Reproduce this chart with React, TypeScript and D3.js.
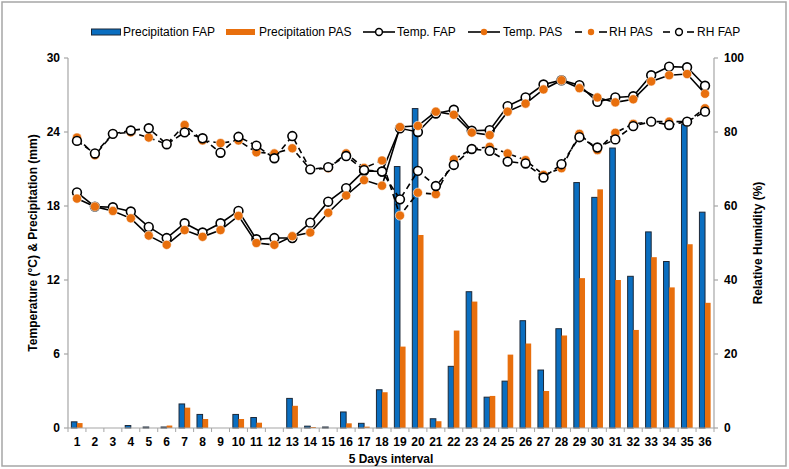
import * as d3 from 'd3'

// 5-day intervals
const categories = ['1','2','3','4','5','6','7','8','9','10','11','12','13','14','15','16','17','18',
  '19','20','21','22','23','24','25','26','27','28','29','30','31','32','33','34','35','36']

// precipitation (mm)
const precipFAP = [0.5, 0, 0, 0.2, 0.08, 0.08, 1.95, 1.1, 0, 1.1, 0.85, 0, 2.4, 0.15, 0.08, 1.3, 0.38, 3.1,
  21.2, 25.9, 0.75, 5.0, 11.05, 2.5, 3.8, 8.7, 4.7, 8.05, 19.9, 18.7, 22.7, 12.3, 15.9, 13.5, 24.6, 17.5]
const precipPAS = [0.4, 0, 0, 0, 0, 0.2, 1.65, 0.73, 0, 0.73, 0.43, 0, 1.8, 0.08, 0, 0.38, 0.11, 2.9,
  6.6, 15.65, 0.55, 7.9, 10.25, 2.6, 5.95, 6.85, 3.0, 7.5, 12.15, 19.35, 12.0, 7.95, 13.85, 11.4, 14.9, 10.15]

// temperature (°C)
const tempFAP = [19.1, 17.95, 17.9, 17.55, 16.3, 15.4, 16.6, 15.85, 16.6, 17.6, 15.3, 15.4, 15.4, 16.65, 18.35, 19.45, 20.85, 20.8,
  24.3, 24.0, 25.5, 25.8, 24.1, 24.15, 26.1, 26.8, 27.85, 28.2, 27.8, 26.45, 26.8, 26.9, 28.6, 29.3, 29.25, 27.75]
const tempPAS = [18.6, 17.95, 17.6, 17.0, 15.6, 14.85, 16.05, 15.5, 16.05, 17.2, 15.0, 14.85, 15.55, 15.85, 17.45, 18.85, 20.1, 19.65,
  24.4, 24.5, 25.65, 25.4, 23.95, 23.75, 25.65, 26.3, 27.45, 28.2, 27.55, 26.8, 26.4, 26.65, 28.1, 28.6, 28.7, 27.1]

// relative humidity (%)
const rhFAP = [77.6, 74.2, 79.5, 80.4, 81.0, 76.7, 79.9, 78.3, 74.4, 78.7, 76.3, 72.9, 78.9, 69.9, 70.5, 73.5, 69.7, 69.3,
  61.8, 69.5, 65.4, 71.1, 75.4, 74.9, 72.0, 71.5, 67.7, 71.3, 78.6, 75.8, 78.0, 81.6, 82.8, 81.9, 82.8, 85.5]
const rhPAS = [78.5, 73.7, 79.5, 79.9, 78.5, 76.7, 81.9, 77.7, 77.0, 77.7, 74.5, 74.2, 75.6, 69.9, 70.2, 74.2, 70.3, 72.3,
  57.4, 63.6, 63.2, 72.6, 75.4, 76.0, 74.2, 72.4, 68.4, 70.2, 79.5, 75.1, 79.8, 82.2, 82.8, 82.8, 82.8, 86.4]

const leftTicks = [0, 6, 12, 18, 24, 30]
const rightTicks = [0, 20, 40, 60, 80, 100]

const W = 789
const H = 469
const margin = { top: 58, right: 75, bottom: 41, left: 68 }

const BLUE = '#0A6EC0'
const ORANGE = '#E86F0D'
const AXIS = '#A6A6A6'
const FONT = '"Liberation Sans", Arial, sans-serif'

export default function App() {
  const x = d3.scaleBand<string>()
    .domain(categories)
    .range([margin.left, W - margin.right])
  const bw = x.bandwidth()
  const xSub = d3.scaleBand<string>()
    .domain(['FAP', 'PAS'])
    .range([bw / 2 - 5.6, bw / 2 + 5.6])
  const cx = (i: number) => (x(categories[i]) as number) + bw / 2

  const yL = d3.scaleLinear().domain([0, 30]).range([H - margin.bottom, margin.top])
  const yR = d3.scaleLinear().domain([0, 100]).range([H - margin.bottom, margin.top])

  const tempLine = d3.line<number>().x((_, i) => cx(i)).y(d => yL(d))
  const rhLine = d3.line<number>().x((_, i) => cx(i)).y(d => yR(d))

  const x0 = margin.left
  const x1 = W - margin.right
  const y0 = H - margin.bottom

  const whiteDots = (vals: number[], scale: (v: number) => number) =>
    vals.map((v, i) => (
      <circle key={i} cx={cx(i)} cy={scale(v)} r={4.4} fill="#fff" stroke="#000" strokeWidth={1.6} />
    ))
  const orangeDots = (vals: number[], scale: (v: number) => number) =>
    vals.map((v, i) => (
      <circle key={i} cx={cx(i)} cy={scale(v)} r={4.6} fill={ORANGE} stroke="#fff" strokeWidth={0.6} />
    ))

  const legendY = 32
  const textStyle = { fontFamily: FONT, fontSize: 12, fill: '#000' }

  return (
    <div style={{ position: 'absolute', left: 0, top: 0 }}>
      <svg width={W} height={H} style={{ display: 'block', background: '#fff' }}>
        <rect x={2} y={2} width={784} height={464} fill="#fff" stroke="#A6A6A6" strokeWidth={1.5} />

        {/* bars */}
        <g>
          {precipFAP.map((v, i) => (
            <rect key={'b' + i}
              x={(x(categories[i]) as number) + (xSub('FAP') as number)}
              y={yL(v)}
              width={xSub.bandwidth()}
              height={y0 - yL(v)}
              fill={BLUE} stroke="#1B2838" strokeWidth={v > 0 ? 1 : 0} />
          ))}
          {precipPAS.map((v, i) => (
            <rect key={'o' + i}
              x={(x(categories[i]) as number) + (xSub('PAS') as number)}
              y={yL(v)}
              width={xSub.bandwidth()}
              height={y0 - yL(v)}
              fill={ORANGE} />
          ))}
        </g>

        {/* axes */}
        <g>
          <line x1={x0} x2={x0} y1={margin.top} y2={y0} stroke={AXIS} strokeWidth={1.2} />
          {leftTicks.map(t => (
            <g key={t}>
              <line x1={x0 - 4} x2={x0} y1={yL(t)} y2={yL(t)} stroke={AXIS} strokeWidth={1.2} />
              <text x={x0 - 8} y={yL(t)} dy="0.35em" textAnchor="end" style={{ ...textStyle, fontWeight: 'bold' }}>{t}</text>
            </g>
          ))}
          <line x1={x1} x2={x1} y1={margin.top} y2={y0} stroke={AXIS} strokeWidth={1.2} />
          {rightTicks.map(t => (
            <g key={t}>
              <line x1={x1} x2={x1 + 4} y1={yR(t)} y2={yR(t)} stroke={AXIS} strokeWidth={1.2} />
              <text x={x1 + 10} y={yR(t)} dy="0.35em" textAnchor="start" style={{ ...textStyle, fontWeight: 'bold' }}>{t}</text>
            </g>
          ))}
          <line x1={x0} x2={x1} y1={y0} y2={y0} stroke={AXIS} strokeWidth={1.2} />
          {categories.map((c, i) => (
            <g key={c}>
              <line x1={x(c) as number} x2={x(c) as number} y1={y0} y2={y0 + 4} stroke={AXIS} strokeWidth={1} />
              <text x={cx(i)} y={y0 + 18} textAnchor="middle" style={{ ...textStyle, fontWeight: 'bold' }}>{c}</text>
            </g>
          ))}
          <line x1={x1} x2={x1} y1={y0} y2={y0 + 4} stroke={AXIS} strokeWidth={1} />

          <text x={(x0 + x1) / 2} y={463} textAnchor="middle" style={{ ...textStyle, fontWeight: 'bold' }}>5 Days interval</text>
          <text transform={`translate(37,${(margin.top + y0) / 2}) rotate(-90)`} textAnchor="middle"
            style={{ ...textStyle, fontWeight: 'bold' }}>Temperature (°C) &amp; Precipitation (mm)</text>
          <text transform={`translate(762,${(margin.top + y0) / 2}) rotate(-90)`} textAnchor="middle"
            style={{ ...textStyle, fontWeight: 'bold' }}>Relative Humidity (%)</text>
        </g>

        {/* lines */}
        <path d={tempLine(tempFAP) as string} fill="none" stroke="#000" strokeWidth={1.6} />
        {whiteDots(tempFAP, yL)}
        <path d={tempLine(tempPAS) as string} fill="none" stroke="#000" strokeWidth={1.6} />
        {orangeDots(tempPAS, yL)}
        <path d={rhLine(rhPAS) as string} fill="none" stroke="#000" strokeWidth={1.6} strokeDasharray="6,4" />
        {orangeDots(rhPAS, yR)}
        <path d={rhLine(rhFAP) as string} fill="none" stroke="#000" strokeWidth={1.6} strokeDasharray="6,4" />
        {whiteDots(rhFAP, yR)}

        {/* legend */}
        <g>
          <rect x={91.5} y={legendY - 3} width={29} height={6} fill={BLUE} stroke="#1B2838" strokeWidth={1} />
          <text x={123} y={legendY} dy="0.35em" style={textStyle}>Precipitation FAP</text>

          <rect x={226} y={legendY - 3} width={29} height={6} fill={ORANGE} />
          <text x={259} y={legendY} dy="0.35em" style={textStyle}>Precipitation PAS</text>

          <line x1={363} x2={395} y1={legendY} y2={legendY} stroke="#000" strokeWidth={1.6} />
          <circle cx={379} cy={legendY} r={3.4} fill="#fff" stroke="#000" strokeWidth={1.5} />
          <text x={397} y={legendY} dy="0.35em" style={textStyle}>Temp. FAP</text>

          <line x1={468} x2={500} y1={legendY} y2={legendY} stroke="#000" strokeWidth={1.6} />
          <circle cx={484} cy={legendY} r={3.2} fill={ORANGE} />
          <text x={503} y={legendY} dy="0.35em" style={textStyle}>Temp. PAS</text>

          <line x1={575} x2={582} y1={legendY} y2={legendY} stroke="#000" strokeWidth={1.6} />
          <line x1={599} x2={607} y1={legendY} y2={legendY} stroke="#000" strokeWidth={1.6} />
          <circle cx={591} cy={legendY} r={3.2} fill={ORANGE} />
          <text x={609} y={legendY} dy="0.35em" style={textStyle}>RH PAS</text>

          <line x1={663} x2={670} y1={legendY} y2={legendY} stroke="#000" strokeWidth={1.6} />
          <line x1={687} x2={694} y1={legendY} y2={legendY} stroke="#000" strokeWidth={1.6} />
          <circle cx={679} cy={legendY} r={3.4} fill="#fff" stroke="#000" strokeWidth={1.5} />
          <text x={697} y={legendY} dy="0.35em" style={textStyle}>RH FAP</text>
        </g>
      </svg>
    </div>
  )
}
